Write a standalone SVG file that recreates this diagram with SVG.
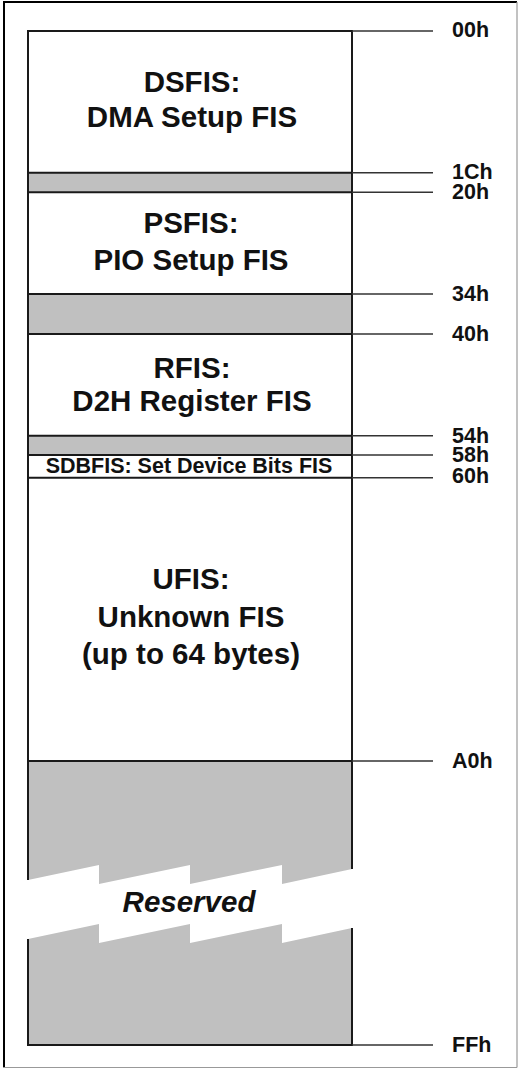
<svg xmlns="http://www.w3.org/2000/svg" width="522" height="1069" viewBox="0 0 522 1069">
<style>
.gray{fill:#c0c0c0;stroke:none}
.bd{stroke:#1a1a1a;stroke-width:2;fill:none}
.tk{stroke:#333;stroke-width:1.6;fill:none}
.title{font-family:"Liberation Sans",Arial,sans-serif;font-weight:bold;font-size:29.5px;fill:#111;text-anchor:middle}
.lbl{font-family:"Liberation Sans",Arial,sans-serif;font-weight:bold;font-size:21.5px;fill:#111}
</style>
<rect x="0" y="0" width="522" height="1069" fill="#fff"/>
<g id="frame">
<line x1="4" y1="2" x2="4" y2="1068" stroke="#000" stroke-width="2"/>
<line x1="3" y1="2" x2="517" y2="2" stroke="#000" stroke-width="2"/>
<line x1="517" y1="2" x2="517" y2="1067.5" stroke="#999" stroke-width="1.2"/>
<line x1="3" y1="1067.5" x2="517" y2="1067.5" stroke="#999" stroke-width="1.2"/>
</g>
<g id="fills">
<rect class="gray" x="28" y="172.7" width="324" height="19.6"/>
<rect class="gray" x="28" y="294" width="324" height="40"/>
<rect class="gray" x="28" y="435.7" width="324" height="19.3"/>
<path class="gray" d="M28,761 H352 V869 L282,884 V865 L190,884 V865 L99,884 V865 L28,880 Z"/>
<path class="gray" d="M28,1045 H352 V928 L282,943 V924 L190,943 V924 L99,943 V924 L28,939 Z"/>
</g>
<g id="column">
<line class="bd" x1="28" y1="30" x2="28" y2="880"/>
<line class="bd" x1="352" y1="30" x2="352" y2="869"/>
<line class="bd" x1="28" y1="939" x2="28" y2="1046"/>
<line class="bd" x1="352" y1="928" x2="352" y2="1046"/>
</g>
<g id="connectors">
<line class="bd" x1="27" y1="31" x2="352" y2="31"/><line class="tk" x1="352" y1="31" x2="433" y2="31"/>
<line class="bd" x1="28" y1="172.7" x2="352" y2="172.7"/><line class="tk" x1="352" y1="172.7" x2="433" y2="172.7"/>
<line class="bd" x1="28" y1="192.3" x2="352" y2="192.3"/><line class="tk" x1="352" y1="192.3" x2="433" y2="192.3"/>
<line class="bd" x1="28" y1="294" x2="352" y2="294"/><line class="tk" x1="352" y1="294" x2="433" y2="294"/>
<line class="bd" x1="28" y1="334" x2="352" y2="334"/><line class="tk" x1="352" y1="334" x2="433" y2="334"/>
<line class="bd" x1="28" y1="435.7" x2="352" y2="435.7"/><line class="tk" x1="352" y1="435.7" x2="433" y2="435.7"/>
<line class="bd" x1="28" y1="455" x2="352" y2="455"/><line class="tk" x1="352" y1="455" x2="433" y2="455"/>
<line class="bd" x1="28" y1="477.7" x2="352" y2="477.7"/><line class="tk" x1="352" y1="477.7" x2="433" y2="477.7"/>
<line class="bd" x1="28" y1="761" x2="352" y2="761"/><line class="tk" x1="352" y1="761" x2="433" y2="761"/>
<line class="bd" x1="27" y1="1045" x2="352" y2="1045"/><line class="tk" x1="352" y1="1045" x2="433" y2="1045"/>
</g>
<g id="offsets">
<text class="lbl" x="452" y="37">00h</text>
<text class="lbl" x="452" y="178.5">1Ch</text>
<text class="lbl" x="452" y="199">20h</text>
<text class="lbl" x="452" y="300.7">34h</text>
<text class="lbl" x="452" y="341">40h</text>
<text class="lbl" x="452" y="442.5">54h</text>
<text class="lbl" x="452" y="461.7">58h</text>
<text class="lbl" x="452" y="482.7">60h</text>
<text class="lbl" x="452" y="768">A0h</text>
<text class="lbl" x="452" y="1052">FFh</text>
</g>
<g id="dsfis">
<text class="title" x="192" y="91.7">DSFIS:</text>
<text class="title" x="192" y="126.7">DMA Setup FIS</text>
</g>
<g id="psfis">
<text class="title" x="191" y="233.3">PSFIS:</text>
<text class="title" x="191" y="270">PIO Setup FIS</text>
</g>
<g id="rfis">
<text class="title" x="192" y="377.7">RFIS:</text>
<text class="title" x="192" y="411">D2H Register FIS</text>
</g>
<g id="sdbfis">
<text class="lbl" x="189" y="473.3" text-anchor="middle">SDBFIS: Set Device Bits FIS</text>
</g>
<g id="ufis">
<text class="title" x="191" y="589.3">UFIS:</text>
<text class="title" x="191" y="626.5">Unknown FIS</text>
<text class="title" x="191" y="663.5">(up to 64 bytes)</text>
</g>
<g id="reserved">
<text class="title" x="189" y="912.3" font-style="italic">Reserved</text>
</g>
</svg>
